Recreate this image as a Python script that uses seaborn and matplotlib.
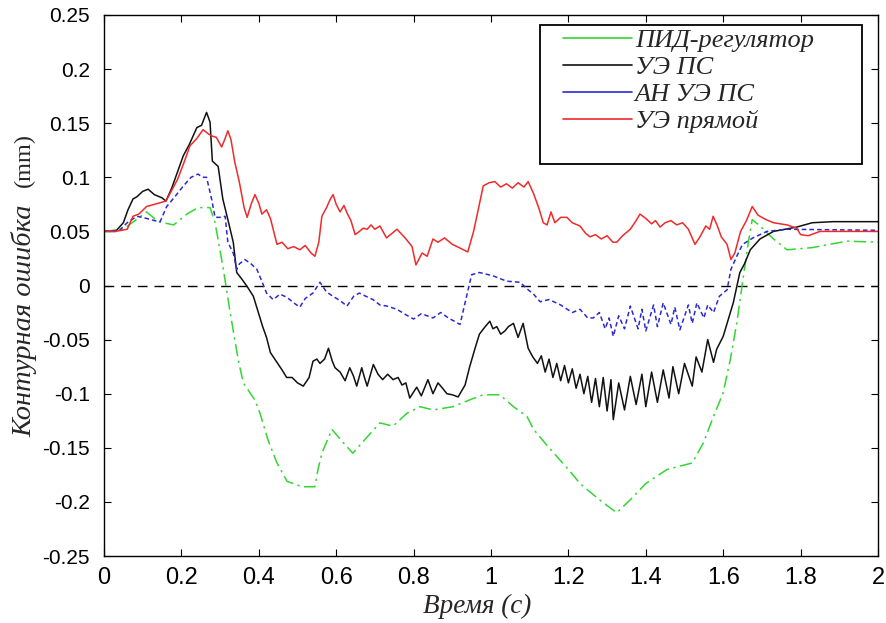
import numpy as np
import pandas as pd
import matplotlib
matplotlib.use("Agg")
import matplotlib.pyplot as plt
from matplotlib.lines import Line2D
from matplotlib.patches import Rectangle
import seaborn as sns

# ---- data -------------------------------------------------------------
series_names = ["ПИД-регулятор", "УЭ ПС", "АН УЭ ПС", "УЭ прямой"]

pid_t = [0.00, 0.05, 0.08, 0.11, 0.14, 0.18, 0.214, 0.243, 0.274, 0.287, 0.307, 0.326,
         0.347, 0.36, 0.39, 0.403, 0.424, 0.447, 0.473, 0.512, 0.545, 0.553, 0.563,
         0.589, 0.615, 0.643, 0.68, 0.713, 0.747, 0.783, 0.817, 0.85, 0.902, 0.95,
         0.98, 1.023, 1.058, 1.093, 1.11, 1.15, 1.20, 1.23, 1.28, 1.325, 1.36, 1.40,
         1.455, 1.52, 1.548, 1.575, 1.60, 1.618, 1.635, 1.65, 1.665, 1.675, 1.695,
         1.73, 1.765, 1.83, 1.92, 2.00]
pid_v = [0.050, 0.052, 0.060, 0.068, 0.059, 0.056, 0.066, 0.072, 0.072, 0.058, 0.018, -0.025,
         -0.069, -0.090, -0.106, -0.118, -0.143, -0.164, -0.181, -0.186, -0.186, -0.170, -0.155,
         -0.133, -0.144, -0.155, -0.140, -0.127, -0.130, -0.118, -0.112, -0.115, -0.112, -0.105,
         -0.101, -0.101, -0.112, -0.121, -0.133, -0.150, -0.170, -0.183, -0.198, -0.210, -0.198, -0.183,
         -0.170, -0.164, -0.146, -0.121, -0.099, -0.069, -0.035, 0.003, 0.040, 0.061, 0.055,
         0.043, 0.033, 0.035, 0.041, 0.040]

ps_t = [0.00, 0.03, 0.05, 0.062, 0.075, 0.085, 0.10, 0.114, 0.13, 0.15, 0.16, 0.175, 0.19,
        0.205, 0.22, 0.23, 0.24, 0.252, 0.265, 0.274, 0.28, 0.295, 0.307, 0.32, 0.334,
        0.343, 0.356, 0.37, 0.386, 0.41, 0.42, 0.43, 0.445, 0.46, 0.472, 0.486, 0.50,
        0.515, 0.53, 0.54, 0.55, 0.558, 0.57, 0.58, 0.59, 0.597, 0.61, 0.623, 0.635,
        0.645, 0.653, 0.666, 0.673, 0.68, 0.696, 0.708, 0.72, 0.733, 0.747, 0.76, 0.77,
        0.78, 0.79, 0.808, 0.82, 0.837, 0.85, 0.863, 0.875, 0.886, 0.90, 0.915, 0.933,
        0.945, 0.958, 0.97, 0.985, 0.997, 1.005, 1.015, 1.025, 1.036, 1.045, 1.058, 1.07,
        1.083, 1.096, 1.108, 1.12, 1.13, 1.14, 1.15, 1.16, 1.17, 1.18, 1.19, 1.20, 1.21,
        1.22, 1.23, 1.24, 1.25, 1.26, 1.27, 1.28, 1.29, 1.30, 1.31, 1.316, 1.33, 1.345,
        1.36, 1.375, 1.39, 1.40, 1.415, 1.43, 1.445, 1.46, 1.47, 1.485, 1.50, 1.52, 1.53,
        1.545, 1.56, 1.575, 1.583, 1.60, 1.61, 1.626, 1.643, 1.655, 1.67, 1.695, 1.73,
        1.79, 1.83, 1.884, 2.00]
ps_v = [0.050, 0.050, 0.058, 0.070, 0.080, 0.082, 0.087, 0.089, 0.084, 0.081, 0.078, 0.090, 0.105,
        0.120, 0.130, 0.138, 0.146, 0.148, 0.160, 0.151, 0.115, 0.110, 0.080, 0.061, 0.040,
        0.012, 0.006, -0.001, -0.010, -0.038, -0.048, -0.062, -0.070, -0.078, -0.085, -0.085, -0.090,
        -0.093, -0.085, -0.070, -0.068, -0.072, -0.068, -0.058, -0.070, -0.076, -0.080, -0.088, -0.076,
        -0.084, -0.093, -0.076, -0.085, -0.093, -0.073, -0.082, -0.087, -0.082, -0.087, -0.085, -0.092,
        -0.090, -0.104, -0.094, -0.102, -0.087, -0.100, -0.090, -0.095, -0.100, -0.101, -0.103, -0.092,
        -0.075, -0.059, -0.045, -0.038, -0.033, -0.040, -0.038, -0.045, -0.042, -0.038, -0.035, -0.048,
        -0.035, -0.058, -0.066, -0.072, -0.065, -0.080, -0.068, -0.085, -0.072, -0.088, -0.074, -0.090, -0.077,
        -0.095, -0.082, -0.100, -0.084, -0.108, -0.086, -0.112, -0.085, -0.116, -0.087, -0.124, -0.090, -0.115,
        -0.084, -0.110, -0.082, -0.112, -0.080, -0.108, -0.078, -0.104, -0.075, -0.100, -0.072, -0.093, -0.066,
        -0.080, -0.050, -0.071, -0.059, -0.047, -0.035, -0.016, 0.012, 0.020, 0.033, 0.043, 0.050,
        0.054, 0.058, 0.059, 0.059]

anps_t = [0.00, 0.04, 0.06, 0.085, 0.11, 0.13, 0.145, 0.162, 0.183, 0.205, 0.225, 0.243, 0.255,
          0.265, 0.278, 0.287, 0.30, 0.313, 0.32, 0.334, 0.343, 0.35, 0.364, 0.38, 0.395, 0.41,
          0.42, 0.437, 0.455, 0.473, 0.49, 0.506, 0.52, 0.54, 0.558, 0.575, 0.592, 0.61, 0.628,
          0.645, 0.66, 0.677, 0.695, 0.713, 0.731, 0.757, 0.78, 0.80, 0.82, 0.85, 0.87, 0.89,
          0.92, 0.933, 0.95, 0.97, 1.005, 1.04, 1.075, 1.096, 1.11, 1.127, 1.15, 1.18, 1.21,
          1.23, 1.25, 1.264, 1.28, 1.295, 1.305, 1.316, 1.33, 1.345, 1.36, 1.38, 1.39, 1.40,
          1.42, 1.43, 1.445, 1.465, 1.475, 1.488, 1.51, 1.52, 1.532, 1.55, 1.56, 1.575, 1.59,
          1.61, 1.62, 1.635, 1.65, 1.677, 1.713, 1.765, 2.00]
anps_v = [0.050, 0.051, 0.058, 0.064, 0.062, 0.060, 0.059, 0.073, 0.082, 0.092, 0.100, 0.103, 0.100,
          0.100, 0.080, 0.063, 0.063, 0.064, 0.040, 0.030, 0.015, 0.020, 0.024, 0.020, 0.015, 0.002,
          -0.007, -0.013, -0.008, -0.011, -0.016, -0.020, -0.012, -0.007, 0.003, -0.006, -0.010, -0.014, -0.019,
          -0.010, -0.007, -0.010, -0.013, -0.018, -0.019, -0.022, -0.027, -0.031, -0.026, -0.030, -0.025, -0.030,
          -0.036, -0.016, 0.010, 0.012, 0.009, 0.004, 0.003, -0.004, -0.008, -0.015, -0.013, -0.018, -0.025,
          -0.022, -0.030, -0.030, -0.025, -0.040, -0.030, -0.047, -0.028, -0.040, -0.019, -0.040, -0.022, -0.042,
          -0.018, -0.038, -0.016, -0.036, -0.020, -0.041, -0.018, -0.035, -0.016, -0.030, -0.018, -0.025, -0.010,
          -0.004, 0.015, 0.027, 0.038, 0.044, 0.050, 0.052, 0.051]

direct_t = [0.00, 0.03, 0.06, 0.075, 0.09, 0.11, 0.14, 0.16, 0.175, 0.19, 0.205, 0.222, 0.24,
            0.256, 0.27, 0.28, 0.29, 0.304, 0.312, 0.32, 0.328, 0.338, 0.35, 0.362, 0.37, 0.38,
            0.39, 0.40, 0.408, 0.42, 0.43, 0.447, 0.46, 0.475, 0.49, 0.506, 0.52, 0.535, 0.545,
            0.555, 0.563, 0.575, 0.585, 0.592, 0.60, 0.61, 0.62, 0.628, 0.638, 0.649, 0.66,
            0.67, 0.68, 0.69, 0.70, 0.713, 0.73, 0.757, 0.778, 0.796, 0.806, 0.822, 0.835,
            0.85, 0.863, 0.88, 0.90, 0.912, 0.94, 0.955, 0.97, 0.98, 0.995, 1.01, 1.025, 1.04,
            1.055, 1.07, 1.085, 1.096, 1.11, 1.125, 1.135, 1.145, 1.155, 1.165, 1.18, 1.196,
            1.21, 1.23, 1.245, 1.256, 1.27, 1.285, 1.30, 1.315, 1.325, 1.34, 1.36, 1.375,
            1.385, 1.40, 1.415, 1.425, 1.437, 1.45, 1.465, 1.48, 1.495, 1.51, 1.527, 1.54,
            1.555, 1.565, 1.574, 1.585, 1.595, 1.61, 1.62, 1.63, 1.645, 1.66, 1.675, 1.69,
            1.71, 1.73, 1.765, 1.79, 1.80, 1.82, 1.85, 1.90, 2.00]
direct_v = [0.050, 0.050, 0.052, 0.064, 0.066, 0.073, 0.076, 0.078, 0.088, 0.098, 0.112, 0.129, 0.136,
            0.144, 0.140, 0.138, 0.137, 0.128, 0.135, 0.143, 0.135, 0.114, 0.095, 0.072, 0.063, 0.075,
            0.084, 0.076, 0.066, 0.070, 0.062, 0.038, 0.040, 0.034, 0.036, 0.033, 0.037, 0.030, 0.027,
            0.040, 0.064, 0.072, 0.080, 0.084, 0.075, 0.068, 0.074, 0.067, 0.060, 0.047, 0.050,
            0.053, 0.052, 0.056, 0.052, 0.055, 0.044, 0.052, 0.044, 0.036, 0.019, 0.030, 0.027,
            0.043, 0.040, 0.044, 0.038, 0.036, 0.031, 0.050, 0.075, 0.092, 0.095, 0.096, 0.091, 0.094,
            0.090, 0.095, 0.091, 0.096, 0.085, 0.070, 0.058, 0.056, 0.068, 0.058, 0.063, 0.063,
            0.058, 0.055, 0.048, 0.045, 0.047, 0.043, 0.046, 0.040, 0.040, 0.046, 0.052, 0.060,
            0.066, 0.062, 0.057, 0.060, 0.054, 0.058, 0.060, 0.056, 0.058, 0.052, 0.038, 0.045,
            0.055, 0.052, 0.064, 0.055, 0.045, 0.038, 0.024, 0.030, 0.050, 0.060, 0.073, 0.065,
            0.061, 0.058, 0.056, 0.053, 0.047, 0.046, 0.050, 0.050, 0.050]

x_ticks = [0, 0.2, 0.4, 0.6, 0.8, 1, 1.2, 1.4, 1.6, 1.8, 2]
x_tick_labels = ["0", "0.2", "0.4", "0.6", "0.8", "1", "1.2", "1.4", "1.6", "1.8", "2"]
y_ticks = [-0.25, -0.2, -0.15, -0.1, -0.05, 0, 0.05, 0.1, 0.15, 0.2, 0.25]
y_tick_labels = ["-0.25", "-0.2", "-0.15", "-0.1", "-0.05", "0", "0.05", "0.1", "0.15", "0.2", "0.25"]

# ---- style ------------------------------------------------------------
sns.set_style("ticks")
plt.rcParams["font.family"] = ["Liberation Sans", "DejaVu Sans"]

colors = {
    "ПИД-регулятор": "#33d633",
    "УЭ ПС": "#111111",
    "АН УЭ ПС": "#2a2ad0",
    "УЭ прямой": "#f02a2a",
}
styles = {
    "ПИД-регулятор": (0, (8, 3, 1.5, 3)),
    "УЭ ПС": "-",
    "АН УЭ ПС": (0, (3, 2)),
    "УЭ прямой": "-",
}
series_data = {
    "ПИД-регулятор": (pid_t, pid_v),
    "УЭ ПС": (ps_t, ps_v),
    "АН УЭ ПС": (anps_t, anps_v),
    "УЭ прямой": (direct_t, direct_v),
}

W, H = 886, 623
fig = plt.figure(figsize=(W / 100, H / 100), dpi=100)
ax = fig.add_axes([104 / W, 1 - 556 / H, 774 / W, 541 / H])

ax.axhline(0, color="black", lw=1.0, linestyle=(0, (7, 5)), zorder=1)

for name in series_names:
    t, v = series_data[name]
    df = pd.DataFrame({"t": t, "v": v})
    sns.lineplot(data=df, x="t", y="v", ax=ax, sort=False, estimator=None,
                 color=colors[name], linestyle=styles[name], lw=1.1, zorder=2)

ax.set_xlim(0, 2)
ax.set_ylim(-0.25, 0.25)
ax.set_xticks(x_ticks)
ax.set_xticklabels(x_tick_labels)
ax.set_yticks(y_ticks)
ax.set_yticklabels(y_tick_labels)
ax.tick_params(direction="in", length=5, width=0.8, top=True, right=True, colors="black")
ax.tick_params(axis="x", labelsize=17, pad=8)
ax.tick_params(axis="y", labelsize=15, pad=10)
for sp in ax.spines.values():
    sp.set_visible(True)
    sp.set_color("black")
    sp.set_linewidth(1.0)

ax.set_xlabel("")
ax.set_ylabel("")
fig.text(477 / W, 1 - 606 / H, "Время (с)", ha="center", va="center",
         family="Liberation Serif", style="italic", fontsize=19.5)
fig.text(24 / W, 1 - 321 / H, "Контурная ошибка", ha="center", va="center",
         rotation=90, family="Liberation Serif", style="italic", fontsize=20.5)
fig.text(24 / W, 1 - 160 / H, "(mm)", ha="center", va="center",
         rotation=90, family="Liberation Serif", fontsize=17.5)

# legend: frame drawn as a plain rectangle, entries placed inside it
box = Rectangle((540 / W, 1 - 164 / H), (862 - 540) / W, (164 - 25) / H,
                transform=fig.transFigure, facecolor="white", edgecolor="black",
                lw=1.3, zorder=5)
fig.add_artist(box)
handles = [Line2D([0], [0], color=colors[n], lw=1.2) for n in series_names]
leg = fig.legend(handles, series_names, loc="upper left",
                 bbox_to_anchor=(563 / W, 1 - 29 / H), bbox_transform=fig.transFigure,
                 borderaxespad=0, borderpad=0, frameon=False,
                 prop={"family": "Liberation Serif", "style": "italic", "size": 19},
                 handlelength=2.6, handletextpad=0.12, labelspacing=0.13)
leg.set_zorder(6)

fig.savefig("out.png", dpi=100)
